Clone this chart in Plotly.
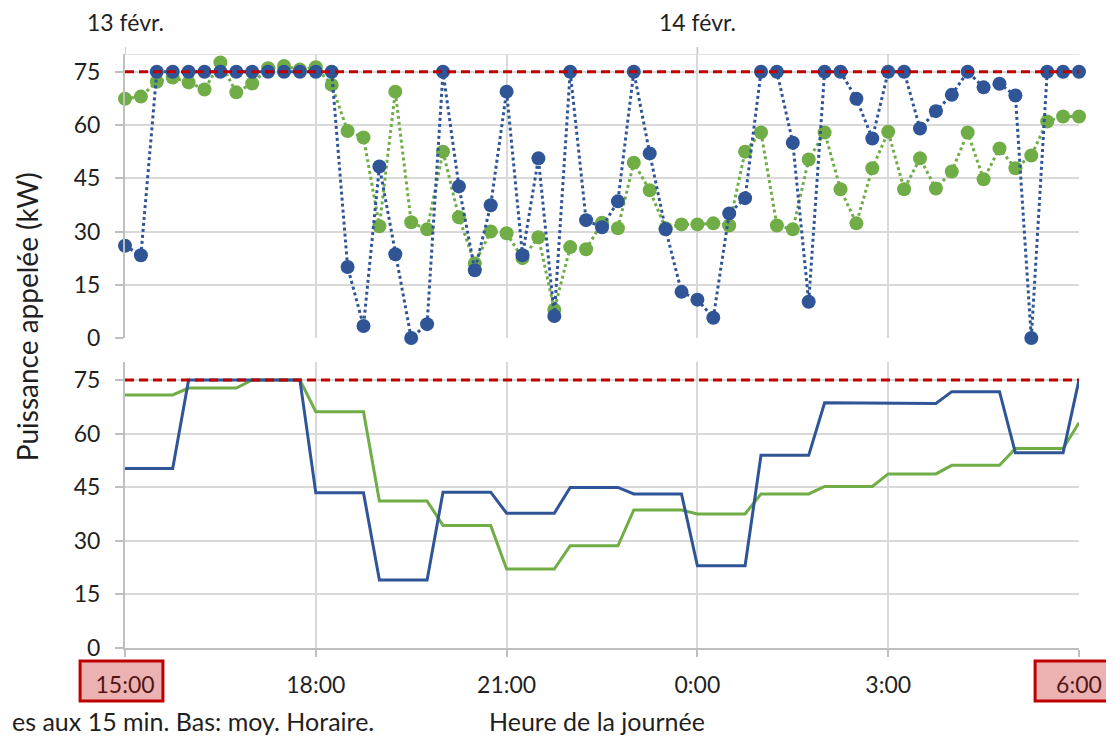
import plotly.graph_objects as go

# ---------------- data ----------------
# time axis: hours elapsed since 13 Feb 15:00, one point every 15 minutes (15:00 -> 6:00)
n_points = 61
x_quarter = [i * 0.25 for i in range(n_points)]

# top panel: 15-minute power demand (kW)
blue_15min = [26, 23.3, 75, 75, 75, 75, 75, 75, 75, 75, 75, 75, 75, 75, 20, 3.4,
              48.3, 23.6, 0, 3.9, 75, 42.7, 19.1, 37.4, 69.4, 23.3, 50.6, 6.2,
              75, 33.2, 31.2, 38.5, 75, 52, 30.6, 13, 10.8, 5.7, 35.1, 39.4,
              75, 75, 55, 10.2, 75, 75, 67.4, 56.2, 75, 75, 59, 63.9,
              68.5, 75, 70.6, 71.6, 68.3, 0, 75, 75, 75]
green_15min = [67.4, 68, 72.2, 73.4, 72, 70, 77.6, 69.2, 71.7, 76, 76.6, 75.6, 76.3, 71.3, 58.3, 56.5,
               31.5, 69.4, 32.6, 30.6, 52.5, 34, 21, 30, 29.5, 22.5, 28.4, 8,
               25.6, 25, 32.5, 30.9, 49.4, 41.6, 30.9, 32, 32, 32.3, 31.7, 52.5,
               57.9, 31.7, 30.6, 50.3, 57.9, 41.9, 32.3, 47.8, 58.1, 41.9, 50.6, 42.1,
               46.9, 57.9, 44.7, 53.4, 47.8, 51.4, 61, 62.4, 62.4]

# bottom panel: hourly averages (one value per hour, 15:00 ... 6:00)
blue_hourly = [50.2, 75, 75, 43.4, 19, 43.6, 37.7, 44.9, 43.1, 23, 53.9, 68.6, 68.4, 71.7, 54.6, 75]
green_hourly = [70.8, 72.7, 75, 66.1, 41.1, 34.3, 22.1, 28.6, 38.6, 37.5, 43.1, 45.2, 48.7, 51.1, 55.8, 63]

LIMIT = 75  # subscribed power limit (kW)

tick_hours = [0, 3, 6, 9, 12, 15]
tick_labels = ["15:00", "18:00", "21:00", "0:00", "3:00", "6:00"]
date_hours = [0, 9]
date_labels = ["13 févr.", "14 févr."]
y_ticks = [0, 15, 30, 45, 60, 75]

# expand hourly values to each quarter-hour point of that hour
blue_bottom = [blue_hourly[i // 4] for i in range(n_points)]
green_bottom = [green_hourly[i // 4] for i in range(n_points)]

# ---------------- style ----------------
BLUE = "#2F5597"
GREEN = "#70AD47"
RED = "#C00000"
GRID = "#D9D9D9"
AXIS = "#BFBFBF"
TXT = "#1f1f1f"
FONT = "Lato"
FS = 23

# page has an 8px body margin: figure occupies screen px 8..1114 / 8..736
OFF = 8
W, H = 1114 - OFF, 736 - OFF
PLOT_L, PLOT_R, PLOT_T, PLOT_B = 125, 1081, 54, 648   # screen px of plot area
PH = PLOT_B - PLOT_T
PW = PLOT_R - PLOT_L


def py(px):  # screen pixel y -> paper y
    return (PLOT_B - px) / PH


def pxx(px):  # screen pixel x -> paper x
    return (px - PLOT_L) / PW


fig = go.Figure()

# top panel
fig.add_trace(go.Scatter(x=x_quarter, y=green_15min, mode="lines+markers",
                         line=dict(color=GREEN, width=3, dash="dot"),
                         marker=dict(color=GREEN, size=14),
                         cliponaxis=False, xaxis="x", yaxis="y", showlegend=False))
fig.add_trace(go.Scatter(x=x_quarter, y=blue_15min, mode="lines+markers",
                         line=dict(color=BLUE, width=3, dash="dot"),
                         marker=dict(color=BLUE, size=14),
                         cliponaxis=False, xaxis="x", yaxis="y", showlegend=False))
fig.add_trace(go.Scatter(x=[x_quarter[0], x_quarter[-1]], y=[LIMIT, LIMIT], mode="lines",
                         line=dict(color=RED, width=3, dash="9px,5px"),
                         xaxis="x", yaxis="y", showlegend=False))

# bottom panel
fig.add_trace(go.Scatter(x=x_quarter, y=green_bottom, mode="lines",
                         line=dict(color=GREEN, width=3),
                         cliponaxis=False, xaxis="x2", yaxis="y2", showlegend=False))
fig.add_trace(go.Scatter(x=x_quarter, y=blue_bottom, mode="lines",
                         line=dict(color=BLUE, width=3),
                         cliponaxis=False, xaxis="x2", yaxis="y2", showlegend=False))
fig.add_trace(go.Scatter(x=[x_quarter[0], x_quarter[-1]], y=[LIMIT, LIMIT], mode="lines",
                         line=dict(color=RED, width=3, dash="9px,5px"),
                         xaxis="x2", yaxis="y2", showlegend=False))

top_domain = [py(338), 1]
bot_domain = [0, py(362)]

common_x = dict(range=[0, 15], tickvals=tick_hours, showgrid=True, gridcolor=GRID,
                gridwidth=1.5, zeroline=False, fixedrange=True)
common_y = dict(range=[0, 80], tickvals=y_ticks, showgrid=True, gridcolor=GRID,
                gridwidth=1.5, zeroline=False, showline=True, linecolor=AXIS,
                linewidth=2, ticks="outside", ticklen=8, tickcolor=AXIS, tickwidth=1.5,
                tickfont=dict(family=FONT, size=FS, color=TXT), ticklabelstandoff=10)

fig.update_layout(
    width=W, height=H,
    margin=dict(l=PLOT_L - OFF, r=(W + OFF) - PLOT_R, t=PLOT_T - OFF, b=(H + OFF) - PLOT_B),
    paper_bgcolor="white", plot_bgcolor="white",
    font=dict(family=FONT, size=FS, color=TXT),
    xaxis=dict(domain=[0, 1], anchor="y", showticklabels=False, ticks="", showline=False,
               **common_x),
    yaxis=dict(domain=top_domain, anchor="x", **common_y),
    xaxis2=dict(domain=[0, 1], anchor="y2", ticktext=tick_labels, ticks="outside",
                ticklen=7, tickcolor=AXIS, tickwidth=1.5, showline=True, linecolor=AXIS,
                linewidth=2, tickfont=dict(family=FONT, size=FS, color=TXT),
                ticklabelstandoff=8, **common_x),
    yaxis2=dict(domain=bot_domain, anchor="x2", **common_y),
)

shapes = []
# top border of the upper panel
shapes.append(dict(type="line", xref="x", yref="y", x0=0, x1=15, y0=80, y1=80,
                   line=dict(color=GRID, width=1.5)))
# date separators above the upper panel
for dh in date_hours:
    shapes.append(dict(type="line", xref="x", yref="paper", x0=dh, x1=dh,
                       y0=1, y1=py(47), line=dict(color=AXIS, width=1.5)))
# highlighted start / end labels
for x0, x1 in [(80, 163), (1037, 1112)]:
    shapes.append(dict(type="rect", xref="paper", yref="paper",
                       x0=pxx(x0), x1=pxx(x1), y0=py(701), y1=py(661),
                       fillcolor="rgba(192,0,0,0.30)", line=dict(color=RED, width=3),
                       layer="above"))
fig.update_layout(shapes=shapes)

ann = []
for dh, lab in zip(date_hours, date_labels):
    ann.append(dict(x=dh, xref="x", y=py(22), yref="paper", text=lab, showarrow=False,
                    xanchor="center", yanchor="middle", font=dict(family=FONT, size=FS, color=TXT)))
ann.append(dict(x=pxx(27), xref="paper", y=py(317), yref="paper", text="Puissance appelée (kW)",
                textangle=-90, showarrow=False, xanchor="center", yanchor="middle",
                font=dict(family=FONT, size=28, color=TXT)))
ann.append(dict(x=pxx(598), xref="paper", y=py(721), yref="paper", text="Heure de la journée",
                showarrow=False, xanchor="center", yanchor="middle",
                font=dict(family=FONT, size=25, color=TXT)))
ann.append(dict(x=pxx(10), xref="paper", y=py(721), yref="paper",
                text="es aux 15 min. Bas: moy. Horaire.",
                showarrow=False, xanchor="left", yanchor="middle",
                font=dict(family=FONT, size=25, color=TXT)))
fig.update_layout(annotations=ann)

fig.write_html("out.html")
